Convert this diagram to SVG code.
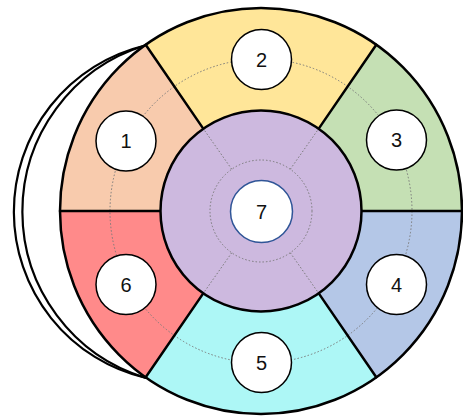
<svg xmlns="http://www.w3.org/2000/svg" width="463" height="418" viewBox="0 0 463 418">
<style>
.wedge{stroke:none}
.bound{stroke:#000;stroke-width:2.5;fill:none;stroke-linecap:round}
.dot{stroke:#7a7a7a;stroke-width:1;stroke-dasharray:1.5 2;fill:none}
.num{fill:#fff;stroke:#000;stroke-width:1.5}
.lbl{font-family:"Liberation Sans",Arial,sans-serif;font-size:20px;fill:#111;text-anchor:middle}
.rim{stroke:#000;stroke-width:2.2;fill:none}
</style>
<rect width="463" height="418" fill="#fff"/>
<g id="segment-1">
<path class="wedge" fill="#F8CBAD" d="M261 211 L145.7 44.7 A201 203 0 0 0 60 211 Z"/>
</g>
<g id="segment-2">
<path class="wedge" fill="#FFE699" d="M261 211 L376.3 44.7 A201 203 0 0 0 145.7 44.7 Z"/>
</g>
<g id="segment-3">
<path class="wedge" fill="#C5E0B4" d="M261 211 L462 211 A201 203 0 0 0 376.3 44.7 Z"/>
</g>
<g id="segment-4">
<path class="wedge" fill="#B4C7E7" d="M261 211 L376.3 377.3 A201 203 0 0 0 462 211 Z"/>
</g>
<g id="segment-5">
<path class="wedge" fill="#ADF7F6" d="M261 211 L145.7 377.3 A201 203 0 0 0 376.3 377.3 Z"/>
</g>
<g id="segment-6">
<path class="wedge" fill="#FF8A8A" d="M261 211 L60 211 A201 203 0 0 0 145.7 377.3 Z"/>
</g>
<g id="connectors">
<ellipse class="dot" cx="261" cy="211" rx="151" ry="152"/>
<line class="bound" x1="60" y1="211" x2="161" y2="211"/>
<line class="bound" x1="361" y1="211" x2="462" y2="211"/>
<line class="bound" x1="145.7" y1="44.7" x2="203.6" y2="129.1"/>
<line class="bound" x1="376.3" y1="44.7" x2="318.4" y2="129.1"/>
<line class="bound" x1="145.7" y1="377.3" x2="203.6" y2="292.9"/>
<line class="bound" x1="376.3" y1="377.3" x2="318.4" y2="292.9"/>
</g>
<g id="segment-7">
<circle cx="261" cy="211" r="100.5" fill="#CDB9DF" stroke="#000" stroke-width="2.5"/>
<circle class="dot" cx="261" cy="211" r="51"/>
<line class="dot" x1="290.3" y1="169.2" x2="318.4" y2="129.1"/>
<line class="dot" x1="231.7" y1="169.2" x2="203.6" y2="129.1"/>
<line class="dot" x1="231.7" y1="252.8" x2="203.6" y2="292.9"/>
<line class="dot" x1="290.3" y1="252.8" x2="318.4" y2="292.9"/>
<circle cx="261.5" cy="211.5" r="31" fill="#fff" stroke="#2F5597" stroke-width="1.5"/>
<text class="lbl" x="261.5" y="218.5">7</text>
</g>
<g id="outline">
<ellipse cx="261" cy="211" rx="201" ry="203" fill="none" stroke="#000" stroke-width="2.5"/>
<path class="rim" d="M145 45.5 A170.8 170.8 0 0 0 146 378"/>
<path class="rim" d="M145 45.5 A173.8 173.8 0 0 0 146 378"/>
</g>
<g id="label-1"><circle class="num" cx="126" cy="141" r="30"/><text class="lbl" x="126" y="148">1</text></g>
<g id="label-2"><circle class="num" cx="261.5" cy="59.5" r="30"/><text class="lbl" x="261.5" y="66.5">2</text></g>
<g id="label-3"><circle class="num" cx="396.5" cy="140" r="30"/><text class="lbl" x="396.5" y="147">3</text></g>
<g id="label-4"><circle class="num" cx="396.5" cy="284.5" r="30"/><text class="lbl" x="396.5" y="291.5">4</text></g>
<g id="label-5"><circle class="num" cx="261.5" cy="362.5" r="30"/><text class="lbl" x="261.5" y="369.5">5</text></g>
<g id="label-6"><circle class="num" cx="126" cy="284.5" r="30"/><text class="lbl" x="126" y="291.5">6</text></g>
</svg>
